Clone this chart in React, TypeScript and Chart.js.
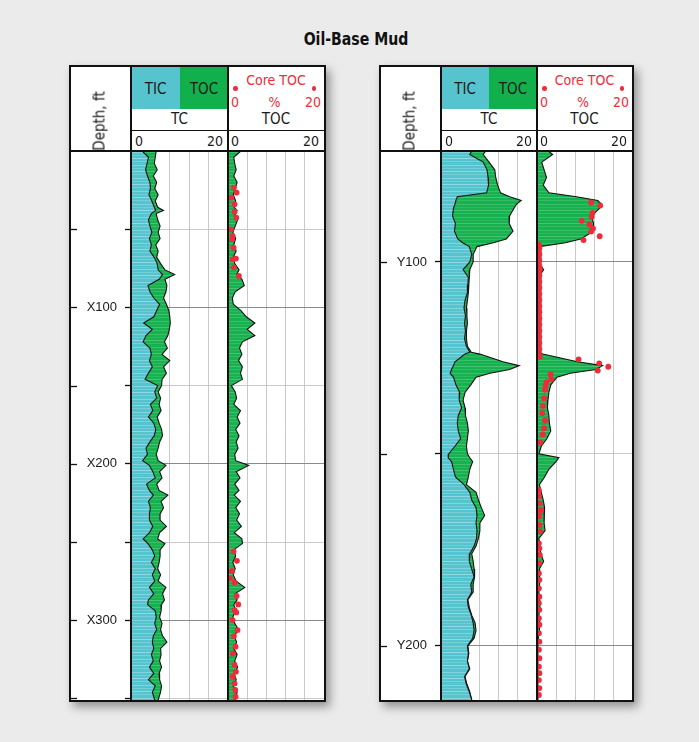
import React, { useEffect, useRef } from "react";
import { Chart, registerables } from "chart.js";

Chart.register(...registerables);

// ---------------- data ----------------
// Left well (X-depths, ft)
const LEFT_DEPTH = [0,4,8,12,16,20,24,28,32,36,38,40,44,48,52,56,60,64,68,72,76,79,82,86,90,94,98,102,106,110,114,118,122,126,130,134,138,142,146,150,154,158,162,166,170,174,178,182,186,190,194,198,201,205,209,213,217,220,224,228,232,236,240,244,248,251,255,259,263,267,271,275,279,283,287,290,294,298,302,306,310,314,318,322,326,330,334,338,342,346,351];
const LEFT_TIC = [2.3,3.6,3.3,3.0,3.4,3.9,4.0,3.7,4.3,4.8,5.1,4.2,3.6,3.9,4.3,3.8,4.2,3.9,4.8,5.4,5.6,6.5,5.8,3.5,3.9,4.7,5.9,5.3,4.7,2.6,4.4,3.1,2.5,3.9,4.2,3.8,4.4,3.6,2.9,5.5,4.9,5.3,4.0,4.5,3.6,4.7,5.1,4.8,3.9,3.1,3.4,2.4,3.8,4.5,5.0,3.2,3.8,4.6,3.6,4.0,3.8,3.8,4.5,3.8,2.5,3.5,4.4,4.9,4.2,5.0,4.4,4.9,3.8,4.7,3.6,3.4,5.0,5.2,4.9,5.3,4.6,4.4,4.7,4.2,4.6,3.8,4.7,3.6,5.0,4.4,4.9];
const LEFT_TC = [5.2,5.0,4.8,5.4,4.6,5.3,4.9,5.6,5.0,5.5,6.7,5.2,5.5,6.0,5.6,6.0,5.1,5.6,5.3,6.1,7.0,9.0,7.0,7.4,7.2,6.7,7.3,7.8,8.0,8.1,7.9,7.6,6.9,7.5,6.4,8.0,6.7,7.3,6.4,6.3,5.6,6.1,5.8,6.2,5.4,5.8,6.3,6.5,5.9,5.6,5.2,5.6,7.2,5.9,6.4,5.3,5.8,7.6,6.2,6.7,6.0,6.0,7.3,5.9,5.5,7.0,6.0,6.0,5.8,5.5,6.1,5.6,7.2,6.5,6.9,6.3,6.2,5.9,6.4,6.1,6.5,7.4,6.1,6.2,5.9,6.3,5.8,5.9,6.3,6.1,5.6];
const LEFT_TOC = [2.7,1.2,1.4,1.7,1.2,1.9,1.5,1.1,1.6,1.3,1.9,1.4,2.0,1.5,1.0,1.6,1.2,1.7,1.1,1.4,2.3,1.8,2.9,3.4,1.5,0.9,1.1,2.7,3.8,5.6,4.0,5.6,3.0,2.4,2.9,2.2,3.0,2.6,3.0,0.7,1.5,1.8,1.2,2.6,1.9,2.5,1.6,2.3,1.7,2.1,1.4,1.6,4.3,1.7,2.5,1.4,2.3,1.3,2.6,1.6,2.4,1.8,2.8,1.3,2.9,3.0,1.2,1.6,1.0,1.5,1.1,1.7,3.5,1.5,1.9,1.2,1.6,1.0,1.4,2.2,1.3,1.8,1.2,1.9,1.4,2.0,1.3,1.7,1.1,1.9,1.5];
const LEFT_CORE_DEPTH = [23.4,26.6,29.8,34.1,38.8,42.6,50.1,54.3,56.5,61.8,68.8,69.3,74.4,79.9,256.0,262.0,268.5,273.2,275.8,284.5,289.9,293.5,295.0,299.9,306.3,310.1,316.9,321.2,328.6,332.9,336.1,340.4,344.6,348.9];
const LEFT_CORE_TOC = [1.24,1.79,0.69,1.37,1.37,1.72,0.62,0.96,0.89,1.17,1.65,1.03,1.24,2.27,1.17,1.86,0.82,0.41,1.37,1.79,2.13,1.37,1.72,0.96,1.99,1.24,1.58,1.03,1.37,1.65,1.03,1.37,1.51,1.58];

// Right well (Y-depths, ft)
const RIGHT_DEPTH = [71.1,72,74,76,78,80,82,83,84,85,86,88,90,92,94,95,96,98,100,102,104,106,108,110,112,114,116,118,120,122,123.5,124,126,127,128,129,130,132,134,136,138,140,142,144,146,148,150,151,152,154,156,158,160,162,164,166,168,170,172,174,176,178,180,182,184,186,188,190,192,194,196,198,200,202,204,206,208,210,212,214.1];
const RIGHT_TIC = [6.4,6.0,8.8,9.6,9.8,9.9,9.5,3.4,3.1,2.9,2.6,2.4,3.0,2.8,3.5,4.5,5.9,6.4,6.0,4.6,5.7,5.6,5.5,5.0,4.8,5.1,4.9,5.1,4.9,5.3,6.0,5.0,2.9,2.6,2.2,1.9,2.6,3.1,3.9,3.8,4.3,3.6,3.4,3.6,4.1,2.9,1.6,1.5,2.2,2.6,3.0,4.8,6.0,6.4,7.3,7.5,7.3,7.5,7.4,6.9,6.0,5.9,6.4,6.9,6.2,6.4,5.5,5.7,6.3,6.7,6.9,6.6,5.5,5.7,5.5,5.9,4.9,5.3,5.9,6.4];
const RIGHT_TC = [9.3,8.8,10.0,11.2,11.4,11.8,12.4,14.3,16.7,15.7,15.2,14.3,14.2,15.0,13.6,10.9,7.5,6.7,6.7,6.0,5.9,5.8,5.7,5.5,5.3,5.4,5.5,5.3,5.3,5.5,6.3,8.1,12.9,16.3,14.3,10.2,7.3,6.2,5.0,4.6,5.0,5.1,5.5,5.7,5.5,5.3,5.5,6.0,6.6,6.0,5.7,5.3,7.3,7.8,8.4,9.1,8.1,8.1,7.8,7.3,6.4,6.7,6.9,7.0,6.7,6.7,5.6,5.9,6.4,7.1,7.3,6.9,5.6,5.8,5.5,6.0,5.0,5.4,6.0,6.4];
const RIGHT_TOC = [2.4,3.3,1.0,1.5,2.0,1.3,2.5,8.3,12.8,13.6,13.2,11.5,11.9,11.9,9.2,6.0,0.5,0.3,0.3,1.4,0.3,0.2,0.3,0.2,0.3,0.2,0.3,0.2,0.3,0.2,0.5,1.2,8.5,13.8,12.4,7.0,4.2,2.9,2.5,2.3,2.2,2.5,2.6,2.9,2.1,0.9,0.4,4.6,4.0,2.5,1.6,0.5,0.9,1.3,1.6,1.5,1.5,1.7,0.4,0.6,0.8,1.4,0.5,0.5,0.6,0.4,0.5,0.6,0.4,0.6,0.5,0.3,0.2,0.2,0.2,0.2,0.2,0.2,0.2,0.2];
const RIGHT_CORE_DEPTH = [84.5,85.3,87.2,88.2,89.3,90.2,91.3,92.1,93.3,94.3,95.5,96.3,97.1,97.9,98.7,99.5,100.3,101.1,101.9,102.7,103.5,104.3,105.1,105.9,106.7,107.5,108.3,109.1,109.9,110.7,111.5,112.3,113.1,113.9,114.7,115.5,116.3,117.1,117.9,118.7,119.5,120.3,121.1,121.9,122.7,123.5,124.3,124.7,125.4,126.4,127.3,128.3,129.3,130.6,131.3,132.2,133.3,135.5,137.5,139.4,141.3,143.3,144.9,147.0,159.5,161.0,162.9,164.6,165.0,166.3,168.5,170.2,173.3,174.6,176.3,178.5,181.1,182.8,185.0,187.2,188.9,190.6,192.8,194.5,196.7,198.9,201.0,203.2,205.4,207.1,208.9,211.0,212.8];
const RIGHT_CORE_TOC = [11.4,13.3,11.7,11.5,9.4,11.0,11.8,11.4,13.2,9.8,0.4,0.5,0.4,0.5,0.4,0.5,0.4,0.5,0.6,0.4,0.5,0.4,0.5,0.4,0.5,0.4,0.5,0.4,0.5,0.4,0.5,0.4,0.5,0.4,0.5,0.4,0.5,0.4,0.5,0.4,0.5,0.4,0.5,0.4,0.5,0.4,0.5,0.6,8.75,13.1,15.0,12.8,2.85,3.0,2.0,1.8,1.7,1.5,1.25,1.1,1.7,1.5,1.2,0.7,0.4,0.4,0.55,0.9,0.6,0.4,0.5,0.7,0.4,0.5,0.6,0.5,0.4,0.5,0.4,0.5,0.4,0.5,0.4,0.5,0.4,0.5,0.4,0.5,0.4,0.5,0.4,0.5,0.4];

// axes
const LEFT_RANGE = [0, 351];
const RIGHT_RANGE = [71.1, 214.1];
const VALUE_RANGE = [0, 20];
const VALUE_STEP = 4;
const LEFT_TICKS = [50, 100, 150, 200, 250, 300, 350];
const LEFT_TICK_LABELS = ["", "X100", "", "X200", "", "X300", ""];
const RIGHT_TICKS = [100, 150, 200];
const RIGHT_TICK_LABELS = ["Y100", "", "Y200"];

// ---------------- styles ----------------
const NARROW = '"Liberation Sans Narrow", "Arial Narrow", "DejaVu Sans Condensed", "Liberation Sans", sans-serif';
const SANS = '"Liberation Sans", Arial, sans-serif';
const INK = "#1a1a1a";
const RED = "#ee2c39";
const CYAN = "#56c4ce";
const GREEN = "#12b04c";

function stripePattern(base: string, stripe: string) {
  const c = document.createElement("canvas");
  c.width = 16;
  c.height = 13;
  const g = c.getContext("2d")!;
  g.fillStyle = base;
  g.fillRect(0, 0, 16, 13);
  g.fillStyle = stripe;
  const rows: [number, number][] = [[1, 0.55], [4, 0.3], [7, 0.7], [10, 0.4]];
  for (const [y, a] of rows) {
    g.globalAlpha = a;
    g.fillRect(0, y, 16, 1);
  }
  return g.createPattern(c, "repeat")!;
}

const edgeTicks = {
  id: "edgeTicks",
  afterDraw(chart: any) {
    const s = chart.scales.y;
    const ctx = chart.ctx;
    ctx.save();
    ctx.strokeStyle = "#111";
    ctx.lineWidth = 1.3;
    for (const t of s.ticks) {
      const y = Math.round(s.getPixelForValue(t.value)) + 0.5;
      ctx.beginPath();
      ctx.moveTo(0, y);
      ctx.lineTo(6, y);
      ctx.stroke();
    }
    ctx.restore();
  },
};

function gridColor(ctx: any) {
  return ctx.tick && ctx.tick.value % 100 === 0 ? "#8a8a8a" : "#c9c9c9";
}

function yScale(range: number[], ticks: number[], labels: string[] | null, width: number) {
  return {
    type: "linear",
    reverse: true,
    min: range[0],
    max: range[1],
    position: "left",
    afterBuildTicks: (s: any) => {
      s.ticks = ticks.map((v) => ({ value: v }));
    },
    afterFit: (s: any) => {
      s.width = width;
      s.paddingTop = 0;
      s.paddingBottom = 0;
    },
    ticks: labels
      ? {
          display: true,
          autoSkip: false,
          padding: 8,
          color: INK,
          font: { family: SANS, size: 13 },
          callback: (_v: any, i: number) => labels[i],
        }
      : { display: false },
    grid: {
      color: gridColor,
      lineWidth: 1,
      drawTicks: !!labels,
      tickLength: 6,
      tickColor: "#111",
      tickWidth: 1.3,
    },
    border: { display: false },
  };
}

function xScale() {
  return {
    type: "linear",
    min: VALUE_RANGE[0],
    max: VALUE_RANGE[1],
    position: "top",
    ticks: { display: false, stepSize: VALUE_STEP },
    grid: { color: "#c9c9c9", lineWidth: 1, drawTicks: false },
    border: { display: false },
    afterFit: (s: any) => {
      s.height = 0;
    },
  };
}

function pts(depth: number[], vals: number[]) {
  return vals.map((v, i) => ({ x: v, y: depth[i] }));
}

function baseOptions(scales: any) {
  return {
    indexAxis: "y",
    animation: false,
    responsive: false,
    maintainAspectRatio: false,
    layout: { padding: 0, autoPadding: false },
    plugins: { legend: { display: false }, tooltip: { enabled: false } },
    scales,
  };
}

function makeTC(canvas: HTMLCanvasElement, depth: number[], tic: number[], tc: number[], range: number[], ticks: number[], labels: string[], pats: any) {
  return new Chart(canvas, {
    type: "line",
    data: {
      datasets: [
        { label: "TIC", data: pts(depth, tic), borderColor: "#111", borderWidth: 1.1, pointRadius: 0, tension: 0, fill: "origin", backgroundColor: pats.cyan },
        { label: "TC", data: pts(depth, tc), borderColor: "#111", borderWidth: 1.1, pointRadius: 0, tension: 0, fill: "-1", backgroundColor: pats.green },
      ],
    },
    options: baseOptions({ x: xScale(), y: yScale(range, ticks, labels, 60) }) as any,
    plugins: [edgeTicks],
  } as any);
}

function makeTOC(canvas: HTMLCanvasElement, depth: number[], toc: number[], coreDepth: number[], coreToc: number[], range: number[], ticks: number[], pats: any) {
  return new Chart(canvas, {
    type: "line",
    data: {
      datasets: [
        { label: "Core TOC", data: pts(coreDepth, coreToc), showLine: false, pointRadius: 2.9, pointBorderWidth: 0, pointBackgroundColor: RED, borderColor: RED, borderWidth: 0, fill: false },
        { label: "TOC", data: pts(depth, toc), borderColor: "#111", borderWidth: 1.1, pointRadius: 0, tension: 0, fill: "origin", backgroundColor: pats.green },
      ],
    },
    options: baseOptions({ x: xScale(), y: yScale(range, ticks, null, 0) }) as any,
  } as any);
}

// ---------------- layout helpers ----------------
const T = (x: number, y: number, text: string, s: any = {}, align: "c" | "l" | "r" = "c") => (
  <div
    style={{
      position: "absolute",
      left: x,
      top: y,
      transform: align === "c" ? "translate(-50%,-50%)" : align === "l" ? "translate(0,-50%)" : "translate(-100%,-50%)",
      whiteSpace: "nowrap",
      lineHeight: 1,
      fontFamily: NARROW,
      fontSize: 15,
      color: INK,
      zIndex: 3,
      ...s,
    }}
  >
    {text}
  </div>
);

const R = (x: number, y: number, w: number, h: number, bg: string, z = 3) => (
  <div style={{ position: "absolute", left: x, top: y, width: w, height: h, background: bg, zIndex: z }} />
);

function Panel(props: { boxLeft: number; tcW: number; tocW: number; tcRef: any; tocRef: any }) {
  const { boxLeft, tcW, tocW, tcRef, tocRef } = props;
  const top = 65;
  const inner = boxLeft + 2;
  const sep1 = inner + 60;
  const tcEnd = sep1 + tcW;
  const tocEnd = tcEnd + tocW;
  const boxW = tocEnd - boxLeft + 2;
  const mid = sep1 + Math.round(tcW / 2);
  const dataTop = 151;
  const dataH = 549;
  return (
    <>
      <div
        style={{
          position: "absolute",
          left: boxLeft,
          top,
          width: boxW,
          height: 637,
          boxSizing: "border-box",
          border: "2px solid #111",
          background: "#fff",
          boxShadow: "4px 5px 9px rgba(0,0,0,0.38)",
          zIndex: 1,
        }}
      />
      <canvas ref={tcRef} width={tcEnd - inner} height={dataH} style={{ position: "absolute", left: inner, top: dataTop, width: tcEnd - inner, height: dataH, zIndex: 2, display: "block" }} />
      <canvas ref={tocRef} width={tocEnd - tcEnd} height={dataH} style={{ position: "absolute", left: tcEnd, top: dataTop, width: tocEnd - tcEnd, height: dataH, zIndex: 2, display: "block" }} />
      {/* header colour boxes */}
      {R(sep1, 67, mid - sep1, 42, CYAN)}
      {R(mid, 67, tcEnd - mid, 42, GREEN)}
      {T((sep1 + mid) / 2, 89, "TIC")}
      {T((mid + tcEnd) / 2, 89, "TOC")}
      {/* core TOC legend */}
      {T(tcEnd + tocW / 2, 80, "Core TOC", { color: RED, fontSize: 14 })}
      <div style={{ position: "absolute", left: tcEnd + 7.7 - 2.3, top: 88.3 - 2.3, width: 4.6, height: 4.6, borderRadius: "50%", background: RED, zIndex: 3 }} />
      <div style={{ position: "absolute", left: tocEnd - 10 - 2.3, top: 88.3 - 2.3, width: 4.6, height: 4.6, borderRadius: "50%", background: RED, zIndex: 3 }} />
      {T(tcEnd + 7, 101.5, "0", { color: RED, fontSize: 14 })}
      {T(tcEnd + tocW / 2 - 1.5, 101.5, "%", { color: RED, fontSize: 14 })}
      {T(tocEnd - 11, 101.5, "20", { color: RED, fontSize: 14 })}
      {/* curve names */}
      {T(sep1 + tcW / 2, 118.5, "TC")}
      {T(tcEnd + tocW / 2, 118.5, "TOC")}
      {R(sep1, 129.5, tocEnd - sep1, 1.5, "#111")}
      {/* scale row */}
      {T(sep1 + 4, 141, "0", { fontSize: 14 }, "l")}
      {T(tcEnd - 5, 141, "20", { fontSize: 14 }, "r")}
      {T(tcEnd + 3, 141, "0", { fontSize: 14 }, "l")}
      {T(tocEnd - 5, 141, "20", { fontSize: 14 }, "r")}
      {R(inner, 150, tocEnd - inner, 2, "#111")}
      {/* depth title */}
      {T(inner + 29, 121, "Depth, ft", { transform: "translate(-50%,-50%) rotate(-90deg)" })}
      {/* track separators */}
      {R(sep1 - 1, 67, 2, 633, "#111")}
      {R(tcEnd - 1, 67, 2, 633, "#111")}
    </>
  );
}

export default function App() {
  const lTC = useRef<HTMLCanvasElement>(null);
  const lTOC = useRef<HTMLCanvasElement>(null);
  const rTC = useRef<HTMLCanvasElement>(null);
  const rTOC = useRef<HTMLCanvasElement>(null);

  useEffect(() => {
    const pats = { cyan: stripePattern(CYAN, "#a9e3e8"), green: stripePattern("#17b24f", "#5ccb84") };
    const charts = [
      makeTC(lTC.current!, LEFT_DEPTH, LEFT_TIC, LEFT_TC, LEFT_RANGE, LEFT_TICKS, LEFT_TICK_LABELS, pats),
      makeTOC(lTOC.current!, LEFT_DEPTH, LEFT_TOC, LEFT_CORE_DEPTH, LEFT_CORE_TOC, LEFT_RANGE, LEFT_TICKS, pats),
      makeTC(rTC.current!, RIGHT_DEPTH, RIGHT_TIC, RIGHT_TC, RIGHT_RANGE, RIGHT_TICKS, RIGHT_TICK_LABELS, pats),
      makeTOC(rTOC.current!, RIGHT_DEPTH, RIGHT_TOC, RIGHT_CORE_DEPTH, RIGHT_CORE_TOC, RIGHT_RANGE, RIGHT_TICKS, pats),
    ];
    return () => charts.forEach((c) => c.destroy());
  }, []);

  return (
    <div style={{ position: "absolute", left: 0, top: 0, width: 699, height: 742, background: "#ebebeb", overflow: "hidden" }}>
      {T(355.5, 39, "Oil-Base Mud", { fontWeight: "bold", fontSize: 18, color: "#111", transform: "translate(-50%,-50%) scaleX(0.87)" })}
      <Panel boxLeft={69} tcW={97} tocW={96} tcRef={lTC} tocRef={lTOC} />
      <Panel boxLeft={379} tcW={96} tocW={95} tcRef={rTC} tocRef={rTOC} />
    </div>
  );
}
